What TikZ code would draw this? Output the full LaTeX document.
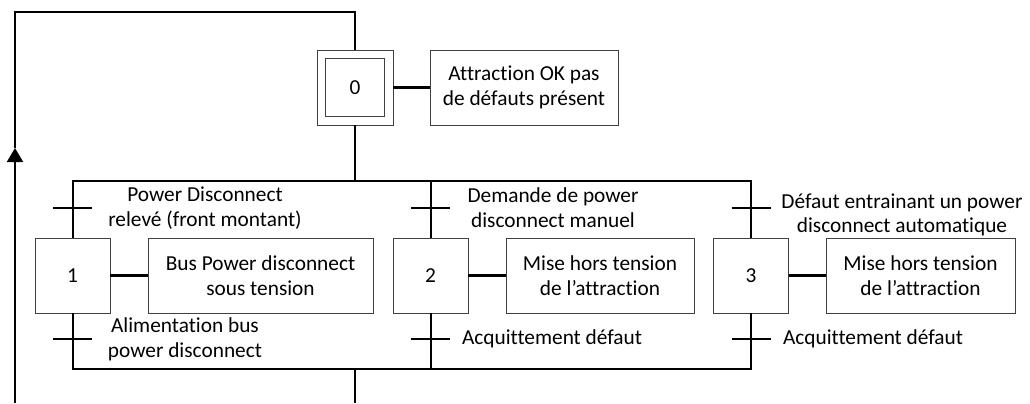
\documentclass[tikz,border=0pt]{standalone}
\usepackage{fontspec}
\setmainfont{Carlito}[Ligatures={TeX,NoCommon}]
\usepackage{tikz}
\usetikzlibrary{arrows.meta}

\tikzset{
  etape/.style={draw=black!75, line width=0.6pt, minimum width=56.25pt, minimum height=56.25pt, inner sep=0pt},
  action/.style={draw=black!75, line width=0.6pt, minimum height=56.25pt, align=center, inner sep=2pt},
  liaison/.style={line width=1.5pt},
  lien/.style={line width=2.2pt},
  recep/.style={align=center, inner sep=0pt},
}

\begin{document}
\begin{tikzpicture}[x=0.75pt, y=-0.75pt, every node/.append style={font=\fontsize{16}{18.5}\selectfont}]
                \useasboundingbox (0,0) rectangle (1030,403);
                % etapes et actions
                \node[etape, minimum width=57pt] (e0) at (355,87.5) {};
                \node[etape, minimum width=44pt, minimum height=43.5pt] (e0i) at (e0) {0};
                \node[action, minimum width=141pt] (a0) at (524,87.5) {Attraction OK pas\\de défauts présent};
                \node[etape] (e1) at (72.5,275.5) {1};
                \node[action, minimum width=168.75pt] (a1) at (260.5,275.5) {Bus Power disconnect\\sous tension};
                \node[etape] (e2) at (430.5,275.5) {2};
                \node[action, minimum width=141pt] (a2) at (600,275.5) {Mise hors tension\\de l’attraction};
                \node[etape] (e3) at (751,275.5) {3};
                \node[action, minimum width=141.75pt] (a3) at (920.5,275.5) {Mise hors tension\\de l’attraction};
                \draw[lien] (e0.east) -- (a0.west);
                \draw[lien] (e1.east) -- (a1.west);
                \draw[lien] (e2.east) -- (a2.west);
                \draw[lien] (e3.east) -- (a3.west);
                % divergence et convergence en OU
                \coordinate (ou1) at (355,181);
                \coordinate (ou2) at (355,369);
                \coordinate (fin) at (355,403);
                \draw[liaison] (e0.south) -- (ou1);
                \draw[liaison] (e1.north) -- (e1.north |- ou1) -- (e3.north |- ou1) -- (e3.north);
                \draw[liaison] (e2.north) -- (e2.north |- ou1);
                \draw[liaison] (e1.south) -- (e1.south |- ou2) -- (e3.south |- ou2) -- (e3.south);
                \draw[liaison] (e2.south) -- (e2.south |- ou2);
                \draw[liaison] (ou2) -- (fin);
                % retour vers l'etape initiale
                \coordinate (depart) at (15,403);
                \coordinate (fleche) at (15,148);
                \coordinate (gauche) at (15,12);
                \coordinate (haut) at (355,12);
                \draw[liaison, -{Triangle[length=10.5pt, width=12pt]}] (depart) -- (fleche);
                \draw[liaison] (fleche) -- (gauche) -- (haut) -- (e0.north);
                % transitions
                \foreach \e in {e1,e2,e3} {
                  \draw[liaison] ([shift={(-19.5,-30)}]\e.north) -- ([shift={(19.5,-30)}]\e.north);
                  \draw[liaison] ([shift={(-19.5,26)}]\e.south) -- ([shift={(19.5,26)}]\e.south);
                }
                \node[recep] (r1) at (205,208) {Power Disconnect\\relevé (front montant)};
                \node[recep] (r1b) at (185,339.5) {Alimentation bus\\power disconnect};
                \node[recep] (r2) at (553,208) {Demande de power\\disconnect manuel};
                \node[recep] (r2b) at (552,339) {Acquittement défaut};
                \node[recep] (r3) at (902,215) {Défaut entrainant un power\\disconnect automatique};
                \node[recep] (r3b) at (873,339) {Acquittement défaut};
              \end{tikzpicture}
\end{document}
